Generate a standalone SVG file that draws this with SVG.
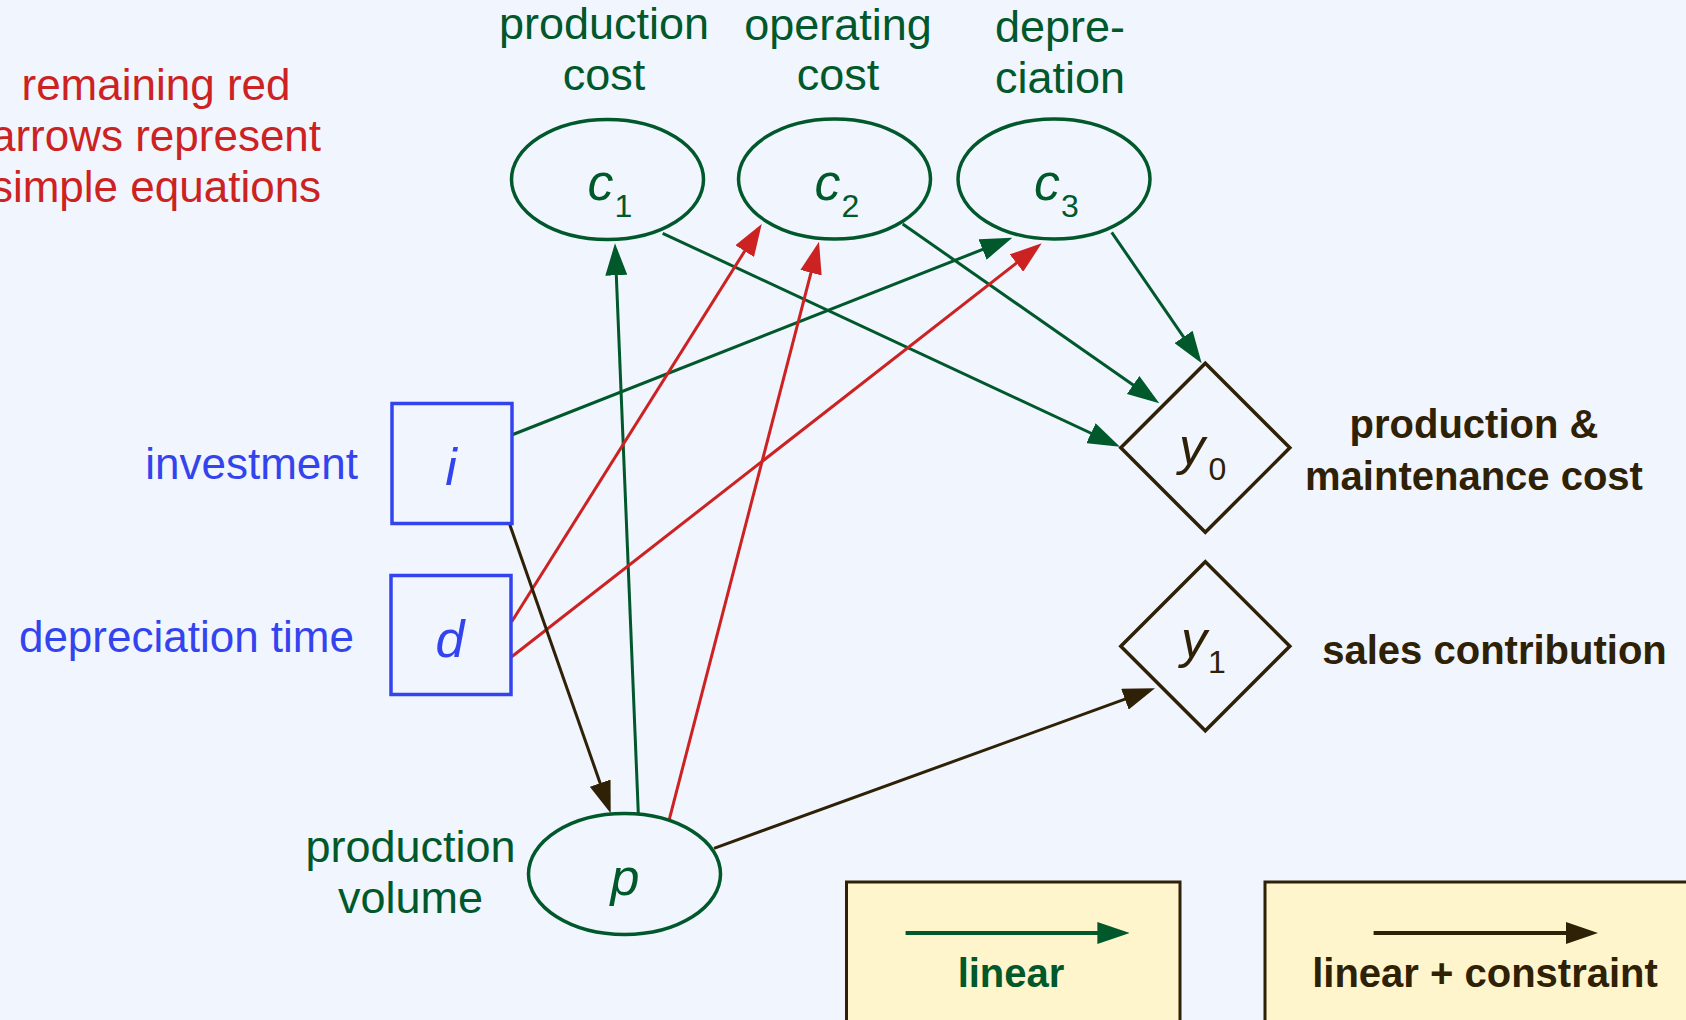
<svg xmlns="http://www.w3.org/2000/svg" width="1686" height="1020" viewBox="0 0 1686 1020">
  <defs>
    <style>
      text { font-family: "Liberation Sans", Arial, sans-serif; }
      .bg { fill: #f0f5fe; }
      .ell { fill: none; stroke: #00582b; stroke-width: 3.5; }
      .box { fill: none; stroke: #3344ee; stroke-width: 3.5; }
      .dia { fill: none; stroke: #2e2106; stroke-width: 3.5; stroke-linejoin: miter; }
      .sym { font-style: italic; font-size: 52px; }
      .sub { font-style: normal; font-size: 32px; }
      .gsym { fill: #00582b; }
      .bsym { fill: #3344ee; }
      .ksym { fill: #2e2106; }
      .glab { fill: #00582b; font-size: 45px; text-anchor: middle; }
      .blab { fill: #3344ee; font-size: 44px; text-anchor: end; }
      .rlab { fill: #cc2222; font-size: 44px; text-anchor: middle; }
      .klab { fill: #2e2106; font-size: 40px; font-weight: bold; text-anchor: middle; }
      .lin { stroke: #00582b; stroke-width: 3; fill: none; marker-end: url(#ahG); }
      .eq { stroke: #cc2222; stroke-width: 3; fill: none; marker-end: url(#ahR); }
      .con { stroke: #2e2106; stroke-width: 3; fill: none; marker-end: url(#ahK); }
      .legbox { fill: #fff5cc; stroke: #2e2106; stroke-width: 3; }
    </style>
    <marker id="ahG" markerUnits="userSpaceOnUse" markerWidth="32" markerHeight="22" refX="22" refY="11" orient="auto">
      <path d="M0,0 L32,11 L0,22 Z" fill="#00582b"/>
    </marker>
    <marker id="ahR" markerUnits="userSpaceOnUse" markerWidth="32" markerHeight="22" refX="22" refY="11" orient="auto">
      <path d="M0,0 L32,11 L0,22 Z" fill="#cc2222"/>
    </marker>
    <marker id="ahK" markerUnits="userSpaceOnUse" markerWidth="32" markerHeight="22" refX="22" refY="11" orient="auto">
      <path d="M0,0 L32,11 L0,22 Z" fill="#2e2106"/>
    </marker>
  </defs>

  <rect class="bg" x="0" y="0" width="1686" height="1020"/>

  <!-- note -->
  <g id="note">
    <text class="rlab" x="156" y="100">remaining red</text>
    <text class="rlab" x="156" y="151">arrows represent</text>
    <text class="rlab" x="156" y="202">simple equations</text>
  </g>

  <!-- connectors -->
  <g id="connectors">
    <line class="lin" x1="638.3" y1="813" x2="615.4" y2="253.3"/>
    <line class="lin" x1="511.7" y1="435" x2="1003.0" y2="241.4"/>
    <line class="lin" x1="662.7" y1="233.3" x2="1110.9" y2="442.5"/>
    <line class="lin" x1="902.7" y1="224" x2="1151.1" y2="397.6"/>
    <line class="lin" x1="1111.7" y1="232.3" x2="1196.0" y2="355.1"/>
    <line class="eq" x1="511.7" y1="621.7" x2="756.4" y2="232.5"/>
    <line class="eq" x1="511.7" y1="656.7" x2="1033.8" y2="249.5"/>
    <line class="eq" x1="669.3" y1="819.3" x2="816.5" y2="251.4"/>
    <line class="con" x1="509.3" y1="523.3" x2="607.4" y2="803.9"/>
    <line class="con" x1="714" y1="848.3" x2="1145.6" y2="691.7"/>
  </g>

  <!-- cost nodes -->
  <g id="c1">
    <text class="glab" x="604" y="39">production</text>
    <text class="glab" x="604" y="90">cost</text>
    <ellipse class="ell" cx="607.5" cy="179.5" rx="96" ry="60"/>
    <text class="sym gsym" x="587.5" y="200">c<tspan class="sub" x="614.5" y="217">1</tspan></text>
  </g>
  <g id="c2">
    <text class="glab" x="838" y="40">operating</text>
    <text class="glab" x="838" y="90">cost</text>
    <ellipse class="ell" cx="834.5" cy="179" rx="96" ry="60"/>
    <text class="sym gsym" x="814.5" y="200">c<tspan class="sub" x="841.5" y="217">2</tspan></text>
  </g>
  <g id="c3">
    <text class="glab" x="1060" y="41.5">depre-</text>
    <text class="glab" x="1060" y="93">ciation</text>
    <ellipse class="ell" cx="1054" cy="179" rx="96" ry="60"/>
    <text class="sym gsym" x="1034" y="200">c<tspan class="sub" x="1061" y="217">3</tspan></text>
  </g>

  <!-- input nodes -->
  <g id="i">
    <text class="blab" x="358" y="479">investment</text>
    <rect class="box" x="392" y="403.5" width="120" height="120"/>
    <text class="sym bsym" x="451" y="485" text-anchor="middle" font-size="56">i</text>
  </g>
  <g id="d">
    <text class="blab" x="354" y="652">depreciation time</text>
    <rect class="box" x="391" y="575.5" width="120" height="119"/>
    <text class="sym bsym" x="450" y="657" text-anchor="middle" font-size="56">d</text>
  </g>

  <!-- production volume -->
  <g id="p">
    <text class="glab" x="410.5" y="862">production</text>
    <text class="glab" x="410.5" y="913">volume</text>
    <ellipse class="ell" cx="624.5" cy="874" rx="96" ry="60.5"/>
    <text class="sym gsym" x="625" y="895" text-anchor="middle">p</text>
  </g>

  <!-- objectives -->
  <g id="y0">
    <path class="dia" d="M1205.3,363.3 L1289.8,447.8 L1205.3,532.3 L1120.8,447.8 Z"/>
    <text class="sym ksym" x="1179" y="463.7">y<tspan class="sub" x="1208.5" y="480">0</tspan></text>
    <text class="klab" x="1474" y="438">production &amp;</text>
    <text class="klab" x="1474" y="490">maintenance cost</text>
  </g>
  <g id="y1">
    <path class="dia" d="M1205.3,561.7 L1289.8,646.2 L1205.3,730.7 L1120.8,646.2 Z"/>
    <text class="sym ksym" x="1181" y="657">y<tspan class="sub" x="1208" y="673">1</tspan></text>
    <text class="klab" x="1494.5" y="664">sales contribution</text>
  </g>

  <!-- legend -->
  <g id="legend-linear">
    <rect class="legbox" x="846.5" y="882" width="333.5" height="170"/>
    <line x1="905.6" y1="933" x2="1119.4" y2="933" stroke="#00582b" stroke-width="4" marker-end="url(#ahG)"/>
    <text class="klab" x="1011" y="987" style="fill:#00582b">linear</text>
  </g>
  <g id="legend-constraint">
    <rect class="legbox" x="1265" y="882" width="450" height="170"/>
    <line x1="1373.6" y1="933" x2="1588" y2="933" stroke="#2e2106" stroke-width="4" marker-end="url(#ahK)"/>
    <text class="klab" x="1485" y="987">linear + constraint</text>
  </g>
</svg>
